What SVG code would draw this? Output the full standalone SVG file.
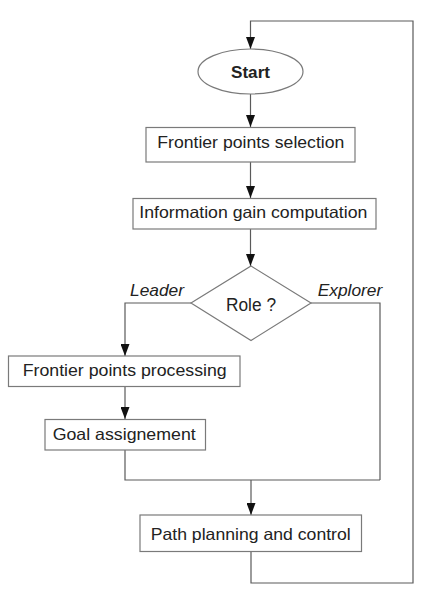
<svg xmlns="http://www.w3.org/2000/svg" width="425" height="603" viewBox="0 0 425 603">
<style>
.node{fill:#fff;stroke:#7a7a7a;stroke-width:1.2}
.conn{fill:none;stroke:#5a5a5a;stroke-width:1.2}
.t{font-family:"Liberation Sans",Arial,sans-serif;font-size:16.5px;fill:#222}
.b{font-weight:bold}
.i{font-style:italic;font-size:17px}
.r{font-size:18px}
</style>
<defs>
<marker id="arr" markerUnits="userSpaceOnUse" markerWidth="12" markerHeight="9" refX="12" refY="4.5" orient="auto">
<path d="M0,0 L12,4.5 L0,9 z" fill="#111"/>
</marker>
</defs>
<rect width="425" height="603" fill="#fff"/>
<g id="connectors">
<path class="conn" d="M251,552 V583 H413 V21 H250.5 V49" marker-end="url(#arr)"/>
<path class="conn" d="M250.5,94 V127" marker-end="url(#arr)"/>
<path class="conn" d="M250.5,162 V198" marker-end="url(#arr)"/>
<path class="conn" d="M250.5,229 V266" marker-end="url(#arr)"/>
<path class="conn" d="M191,303 H125 V356" marker-end="url(#arr)"/>
<path class="conn" d="M125,387 V419" marker-end="url(#arr)"/>
<path class="conn" d="M125,450 V480 H380"/>
<path class="conn" d="M311,303 H380 V480"/>
<path class="conn" d="M251,480 V515" marker-end="url(#arr)"/>
</g>
<g id="start">
<ellipse class="node" cx="250.5" cy="71.5" rx="52.5" ry="22.5"/>
<text class="t b" x="231" y="78" textLength="39" lengthAdjust="spacingAndGlyphs">Start</text>
</g>
<g id="frontier-selection">
<rect class="node" x="146" y="127.5" width="209" height="34.5"/>
<text class="t" x="157.3" y="147.5" textLength="187" lengthAdjust="spacingAndGlyphs">Frontier points selection</text>
</g>
<g id="info-gain">
<rect class="node" x="133" y="198.5" width="243" height="30.5"/>
<text class="t" x="139.3" y="217.5" textLength="228" lengthAdjust="spacingAndGlyphs">Information gain computation</text>
</g>
<g id="role">
<polygon class="node" points="251,266 311,303 251,340.5 191,303"/>
<text class="t r" x="226" y="310.5" textLength="50" lengthAdjust="spacingAndGlyphs">Role ?</text>
</g>
<g id="label-leader">
<text class="t i" x="130" y="296" textLength="54" lengthAdjust="spacingAndGlyphs">Leader</text>
</g>
<g id="label-explorer">
<text class="t i" x="317.7" y="296" textLength="64.6" lengthAdjust="spacingAndGlyphs">Explorer</text>
</g>
<g id="frontier-processing">
<rect class="node" x="8.5" y="356" width="231.5" height="30.5"/>
<text class="t" x="22.7" y="375.5" textLength="204" lengthAdjust="spacingAndGlyphs">Frontier points processing</text>
</g>
<g id="goal">
<rect class="node" x="45" y="419.5" width="160.5" height="30.5"/>
<text class="t" x="52.7" y="439.5" textLength="143" lengthAdjust="spacingAndGlyphs">Goal assignement</text>
</g>
<g id="path-planning">
<rect class="node" x="140" y="515" width="221.5" height="36.5"/>
<text class="t" x="150.7" y="539.5" textLength="200" lengthAdjust="spacingAndGlyphs">Path planning and control</text>
</g>
</svg>
